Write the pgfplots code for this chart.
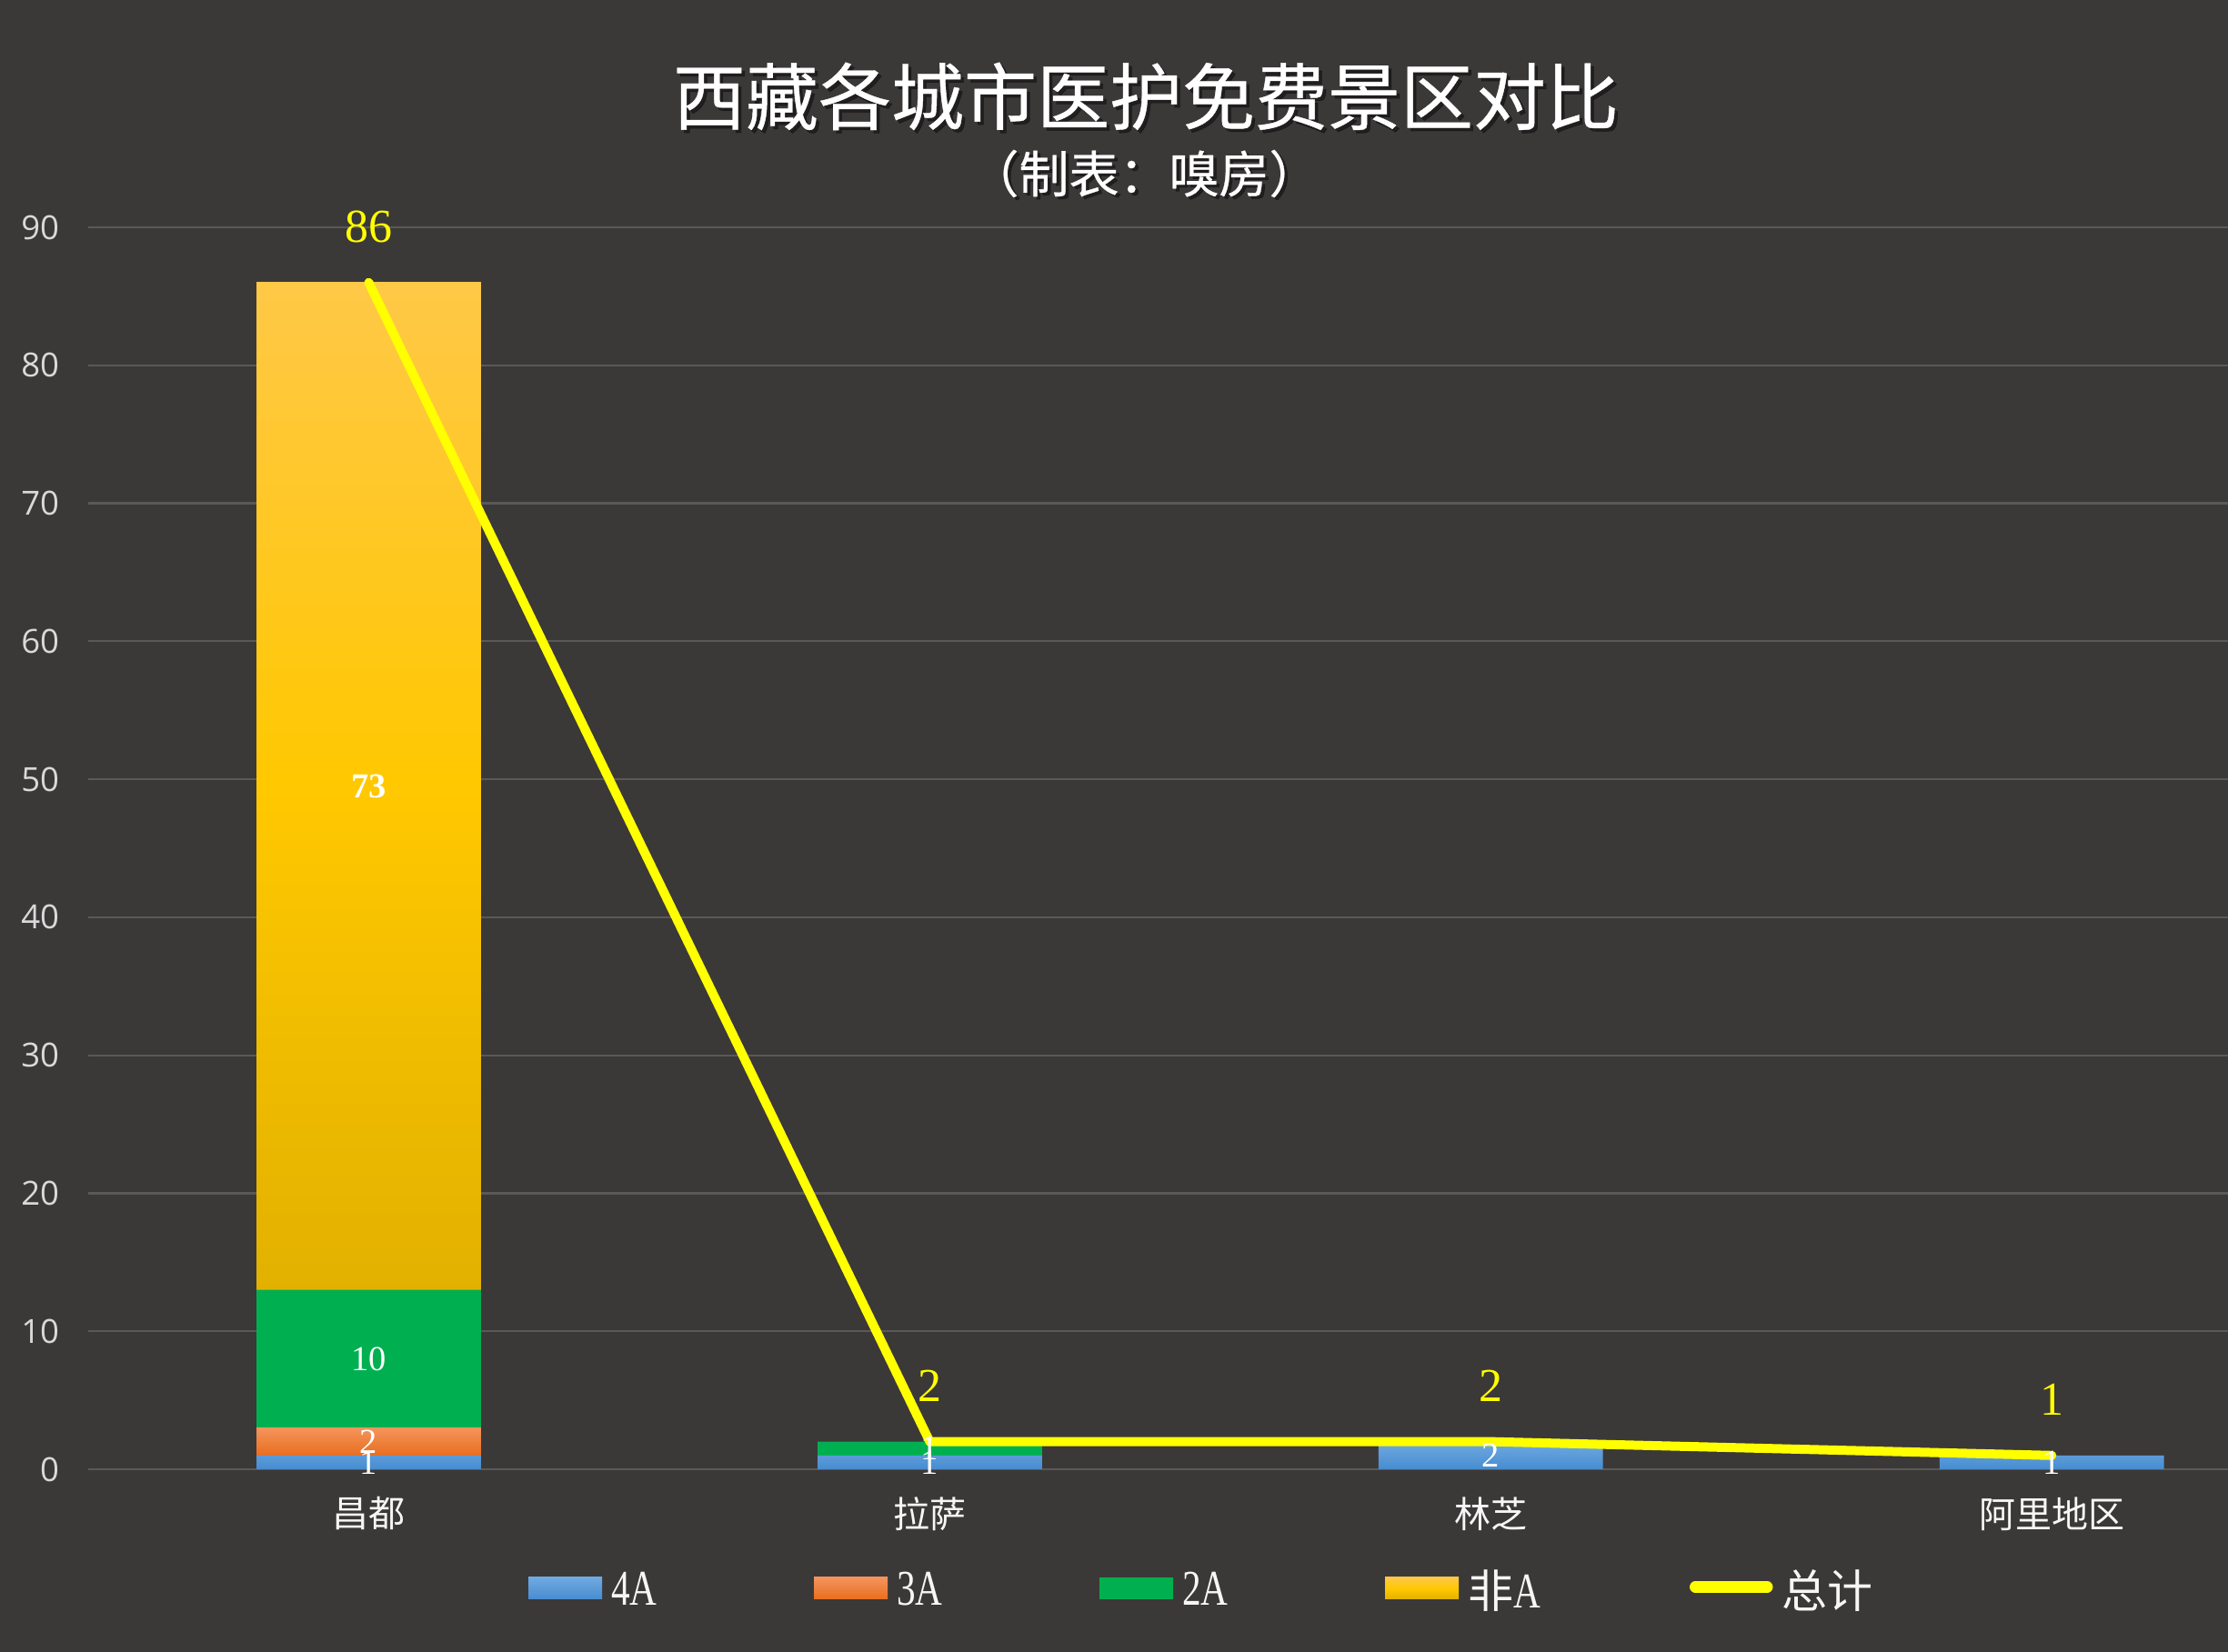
\documentclass[border=0pt]{standalone}
\usepackage{pgfplots}
\pgfplotsset{compat=1.18}
\usepackage{fontspec}
\setmainfont{Open Sans}
\newfontfamily\cjk{Noto Sans CJK SC}
\newfontfamily\cjkt[FakeBold=0.5]{Noto Sans CJK SC}
\newfontfamily\lat[FakeStretch=0.75]{Liberation Serif}
\newfontfamily\serif{Liberation Serif}
\newfontfamily\tickf{Open Sans}
\definecolor{bg}{HTML}{3B3838}
\definecolor{gridc}{HTML}{5B5858}
\definecolor{ticktxt}{HTML}{D9D9D9}
\definecolor{blueT}{HTML}{70AAE2}
\definecolor{blueB}{HTML}{478CCF}
\definecolor{orT}{HTML}{F4945C}
\definecolor{orB}{HTML}{E86E1E}
\definecolor{grn}{HTML}{00B050}
\definecolor{yT}{HTML}{FFC847}
\definecolor{yM}{HTML}{FFC800}
\definecolor{yB}{HTML}{E2B100}
\definecolor{lineY}{HTML}{FFFF00}

\pgfplotsset{
  base/.style={
    at={(19.4pt,40.2pt)}, anchor=south west,
    scale only axis, width=470.6pt, height=273.2pt,
    xmin=-0.5, xmax=3.314, ymin=0, ymax=90,
    clip=false,
  },
  totalleg/.style={legend image code/.code={\draw[##1] (0pt,1.2pt) -- (15.8pt,1.2pt);}},
  barleg/.style={legend image code/.code={\path[##1, draw=none] (0pt,-1.5pt) rectangle (16.2pt,3.3pt);}},
}

\begin{document}
\begin{tikzpicture}
\useasboundingbox (0,0) rectangle (490pt,363.4pt);
\fill[bg] (0,0) rectangle (490pt,363.4pt);
% title with soft shadow
\node[text=black, opacity=0.45, inner sep=0pt, font=\cjkt\fontsize{16}{18}\selectfont] at (252.7pt,341.5pt) {西藏各城市医护免费景区对比};
\node[text=white, inner sep=0pt, font=\cjkt\fontsize{16}{18}\selectfont] at (252pt,342.2pt) {西藏各城市医护免费景区对比};
\node[text=black, opacity=0.45, inner sep=0pt, font=\cjkt\fontsize{11}{13}\selectfont] at (252.3pt,324.6pt) {（制表：嗅房）};
\node[text=white, inner sep=0pt, font=\cjkt\fontsize{11}{13}\selectfont] at (251.6pt,325.2pt) {（制表：嗅房）};

\begin{axis}[base,
  ybar stacked, bar width=0.4,
  axis x line*=bottom, axis y line*=left,
  axis line style={draw=none},
  tick style={draw=none}, major tick length=0pt,
  ymajorgrids, grid style={gridc, line width=0.45pt},
  ytick={0,10,...,90},
  xtick={0,1,2,3},
  xticklabels={昌都,拉萨,林芝,阿里地区},
  xticklabel style={font=\cjk\fontsize{8}{9}\selectfont, text=white!93!gray, anchor=center, inner sep=0pt, yshift=-9.8pt},
  /pgf/number format/assume math mode=true,
  yticklabel style={font=\tickf\fontsize{7.3}{8}\selectfont, text=ticktxt, anchor=east, inner sep=0pt, xshift=-6.2pt},
  legend columns=5,
  legend style={at={(axis description cs:0.2057,-0.0992)}, anchor=west,
    draw=none, fill=none, inner sep=0pt, outer sep=0pt,
    nodes={inner sep=0pt, text=white!93!gray},
    /tikz/every odd column/.append style={column sep=2pt},
    /tikz/every even column/.append style={column sep=0pt}},
  barleg,
]
\addplot[draw=none, top color=blueT, bottom color=blueB] coordinates {(0,1) (1,1) (2,2) (3,1)};
\addlegendentry{\makebox[44.6pt][l]{\lat\fontsize{11}{12}\selectfont 4A}}
\addplot[draw=none, top color=orT, bottom color=orB] coordinates {(0,2) (1,0) (2,0) (3,0)};
\addlegendentry{\makebox[44.6pt][l]{\lat\fontsize{11}{12}\selectfont 3A}}
\addplot[draw=none, fill=grn] coordinates {(0,10) (1,1) (2,0) (3,0)};
\addlegendentry{\makebox[44.6pt][l]{\lat\fontsize{11}{12}\selectfont 2A}}
\addplot[draw=none, top color=yT, bottom color=yB, middle color=yM] coordinates {(0,73) (1,0) (2,0) (3,0)};
\addlegendentry{\makebox[48.8pt][l]{\cjk\fontsize{10}{12}\selectfont 非\lat\fontsize{11}{12}\selectfont A}}
\addlegendimage{lineY, line width=2.5pt, line cap=round, totalleg}
\addlegendentry{\cjk\fontsize{10}{12}\selectfont 总计}
\end{axis}

\begin{axis}[base, hide axis]
% total line
\addplot[lineY, line width=2pt, line join=round, line cap=round,
  nodes near coords, point meta=explicit symbolic,
  nodes near coords align={anchor=center},
  every node near coord/.append style={font=\serif\fontsize{10.4}{12}\selectfont, text=lineY, inner sep=0pt, yshift=12.2pt}]
  coordinates {(0,86)[86] (1,2)[2] (2,2)[2] (3,1)[1]};
% segment labels
\addplot[draw=none, mark=none,
  nodes near coords, point meta=explicit symbolic,
  nodes near coords align={anchor=center},
  every node near coord/.append style={font=\serif\fontsize{7.7}{9}\selectfont, text=white, inner sep=0pt}]
  coordinates {(0,8)[10] (0,2)[2] (0,0.5)[1] (1,1.5)[1] (1,0.5)[1] (2,1)[2] (3,0.5)[1]};
\addplot[draw=none, mark=none,
  nodes near coords, point meta=explicit symbolic,
  nodes near coords align={anchor=center},
  every node near coord/.append style={font=\serif\bfseries\fontsize{7.7}{9}\selectfont, text=white, inner sep=0pt}]
  coordinates {(0,49.5)[73]};
\end{axis}
\end{tikzpicture}
\end{document}
